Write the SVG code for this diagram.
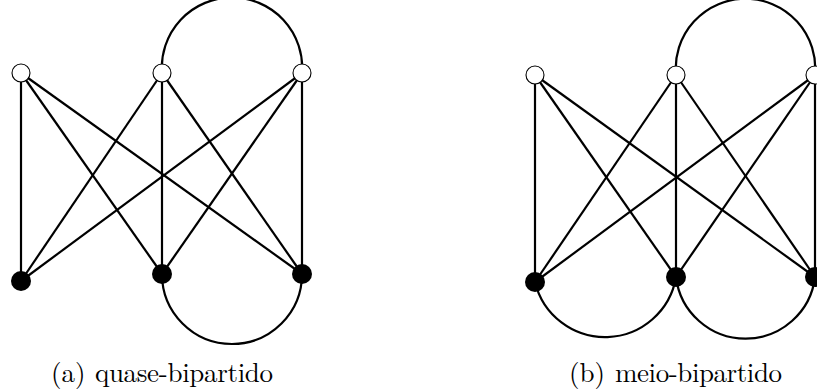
<svg xmlns="http://www.w3.org/2000/svg" width="817" height="392" viewBox="0 0 817 392">
<style>
.e{stroke:#000;stroke-width:2.2;fill:none}
.w{fill:#fff;stroke:#000;stroke-width:1.1}
.b{fill:#000}
.t{font-family:"Latin Modern Roman","Liberation Serif",serif;font-size:27px;fill:#000}
</style>
<rect width="817" height="392" fill="#fff"/>
<g id="connectors">
<g id="edges-a">
<line class="e" x1="21" y1="73" x2="21" y2="281"/>
<line class="e" x1="21" y1="73" x2="162" y2="274"/>
<line class="e" x1="21" y1="73" x2="302" y2="274"/>
<line class="e" x1="162" y1="73" x2="21" y2="281"/>
<line class="e" x1="162" y1="73" x2="162" y2="274"/>
<line class="e" x1="162" y1="73" x2="302" y2="274"/>
<line class="e" x1="302" y1="73" x2="21" y2="281"/>
<line class="e" x1="302" y1="73" x2="162" y2="274"/>
<line class="e" x1="302" y1="73" x2="302" y2="274"/>
<path class="e" d="M162,73 A70.2,70.2 0 1 1 302,73"/>
<path class="e" d="M162,274 A70,70 0 0 0 302,274"/>
</g>
<g id="edges-b">
<line class="e" x1="535" y1="75" x2="535" y2="282"/>
<line class="e" x1="535" y1="75" x2="676" y2="277"/>
<line class="e" x1="535" y1="75" x2="815" y2="277"/>
<line class="e" x1="676" y1="75" x2="535" y2="282"/>
<line class="e" x1="676" y1="75" x2="676" y2="277"/>
<line class="e" x1="676" y1="75" x2="815" y2="277"/>
<line class="e" x1="815" y1="75" x2="535" y2="282"/>
<line class="e" x1="815" y1="75" x2="676" y2="277"/>
<line class="e" x1="815" y1="75" x2="815" y2="277"/>
<path class="e" d="M676,75 A69.8,69.8 0 1 1 815,75"/>
<path class="e" d="M535,282 A72,72 0 0 0 676,277"/>
<path class="e" d="M676,277 A70,70 0 0 0 815,277"/>
</g>
</g>
<g id="a-top-1"><circle class="w" cx="21" cy="73" r="9"/></g>
<g id="a-top-2"><circle class="w" cx="162" cy="73" r="9"/></g>
<g id="a-top-3"><circle class="w" cx="302" cy="73" r="9"/></g>
<g id="a-bot-1"><circle class="b" cx="21" cy="281" r="10"/></g>
<g id="a-bot-2"><circle class="b" cx="162" cy="274" r="10"/></g>
<g id="a-bot-3"><circle class="b" cx="302" cy="274" r="10"/></g>
<g id="b-top-1"><circle class="w" cx="535" cy="75" r="9"/></g>
<g id="b-top-2"><circle class="w" cx="676" cy="75" r="9"/></g>
<g id="b-top-3"><circle class="w" cx="815" cy="75" r="9"/></g>
<g id="b-bot-1"><circle class="b" cx="535" cy="282" r="10"/></g>
<g id="b-bot-2"><circle class="b" cx="676" cy="277" r="10"/></g>
<g id="b-bot-3"><circle class="b" cx="815" cy="277" r="10"/></g>
<g id="caption-a">
<text class="t" x="51" y="382">(a)</text>
<text class="t" x="95" y="382" textLength="178" lengthAdjust="spacing">quase-bipartido</text>
</g>
<g id="caption-b">
<text class="t" x="569" y="382">(b)</text>
<text class="t" x="615" y="382" textLength="167" lengthAdjust="spacing">meio-bipartido</text>
</g>
</svg>
